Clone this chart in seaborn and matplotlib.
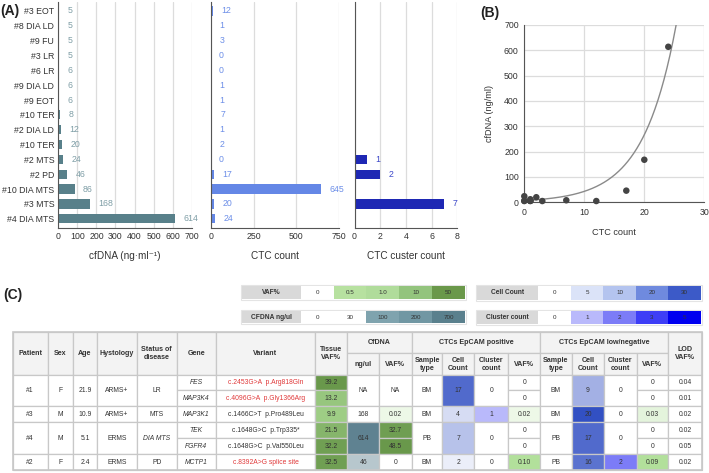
import numpy as np
import pandas as pd
import matplotlib
matplotlib.use("Agg")
import matplotlib.pyplot as plt
import seaborn as sns
from matplotlib.patches import Rectangle
from matplotlib.colors import LinearSegmentedColormap, TwoSlopeNorm, Normalize, LogNorm

# ---------------- data: panel A / B ----------------
samples = ["#3 EOT", "#8 DIA LD", "#9 FU", "#3 LR", "#6 LR", "#9 DIA LD", "#9 EOT",
           "#10 TER", "#2 DIA LD", "#10 TER", "#2 MTS", "#2 PD", "#10 DIA MTS",
           "#3 MTS", "#4 DIA MTS"]
cfdna_ngml = [5, 5, 5, 5, 6, 6, 6, 8, 12, 20, 24, 46, 86, 168, 614]
ctc_count = [12, 1, 3, 0, 0, 1, 1, 7, 1, 2, 0, 17, 645, 20, 24]
ctc_cluster = [0, 0, 0, 0, 0, 0, 0, 0, 0, 0, 1, 2, 0, 7, 0]

# exponential trend line: y = a * exp(b * x)
trend_a = 7.0
trend_b = 0.182

# ---------------- data: panel C table ----------------
patients = ["#1", "#3", "#4", "#2"]
sex = ["F", "M", "M", "F"]
age = ["21.9", "10.9", "5.1", "2.4"]
histology = ["ARMS+", "ARMS+", "ERMS", "ERMS"]
status = ["LR", "MTS", "DIA MTS", "PD"]
genes = [["FES", "MAP3K4"], ["MAP3K1"], ["TEK", "FGFR4"], ["MCTP1"]]
variants = [["c.2453G>A  p.Arg818Gln", "c.4096G>A  p.Gly1366Arg"],
            ["c.1466C>T  p.Pro489Leu"],
            ["c.1648G>C  p.Trp335*", "c.1648G>C  p.Val550Leu"],
            ["c.8392A>G splice site"]]
tissue_vaf = [["39.2", "13.2"], ["9.9"], ["21.5", "32.2"], ["32.5"]]
cfdna_ngul = ["NA", "168", "614", "46"]
cfdna_vaf = [["NA"], ["0.02"], ["32.7", "48.5"], ["0"]]
pos_sample = ["BM", "BM", "PB", "BM"]
pos_cell = [17, 4, 7, 2]
pos_cluster = [0, 1, 0, 0]
pos_vaf = [["0", "0"], ["0.02"], ["0", "0"], ["0.10"]]
neg_sample = ["BM", "BM", "PB", "PB"]
neg_cell = [9, 20, 17, 16]
neg_cluster = [0, 0, 0, 2]
neg_vaf = [["0", "0"], ["0.03"], ["0", "0"], ["0.09"]]
lod_vaf = [["0.04", "0.01"], ["0.02"], ["0.02", "0.05"], ["0.02"]]

# legend scales
vaf_legend_vals = ["0", "0.5", "1.0", "10", "50"]
cfdna_legend_vals = ["0", "30", "100", "200", "700"]
cell_legend_vals = ["0", "5", "10", "20", "30"]
cluster_legend_vals = ["0", "1", "2", "3", "5"]

# ---------------- styles ----------------
variant_red = [[True, True], [False], [False, False], [True]]
status_italic = [False, False, True, False]
cfdna_shaded = [False, False, True, True]
vaf_legend_cols = ["#ffffff", "#b7e1a0", "#b0dc9b", "#93c47d", "#6a984a"]
cfdna_legend_cols = ["#ffffff", "#ffffff", "#7fa3ae", "#7197a3", "#5a808d"]
cell_legend_cols = ["#ffffff", "#dbe3f8", "#b4c4ef", "#6f8ade", "#3c5ac8"]
cluster_legend_cols = ["#ffffff", "#b9b9fb", "#7c7cf7", "#3e3ef6", "#0000f0"]

sns.set_theme(style="white")
plt.rcParams['font.family'] = ['Liberation Sans', 'DejaVu Sans']
plt.rcParams['axes.unicode_minus'] = False

W, H = 709, 473
fig = plt.figure(figsize=(W / 100, H / 100), dpi=100)


def px_axes(x0, y0, x1, y1):
    return fig.add_axes([x0 / W, 1 - y1 / H, (x1 - x0) / W, (y1 - y0) / H])


TXT = "#333333"
GRIDC = "#dcdcdc"
SPINE = "#555555"

# ---------------- panel A ----------------
df = pd.DataFrame({"row": range(len(samples)), "sample": samples,
                   "cfdna": cfdna_ngml, "ctc": ctc_count, "cluster": ctc_cluster})

panels = [
    dict(x0=58.3, x1=191.7, col="cfdna", bar="#58808a", lab="#7f9ea6",
         lim=(0, 700), ticks=list(range(0, 701, 100)), xlabel="cfDNA (ng·ml⁻¹)", zero=True),
    dict(x0=210.7, x1=339.3, col="ctc", bar="#6487e6", lab="#6d8fe8",
         lim=(0, 750), ticks=[0, 250, 500, 750], xlabel="CTC count", zero=True),
    dict(x0=354.5, x1=457.3, col="cluster", bar="#1e28b4", lab="#3c47c9",
         lim=(0, 8), ticks=[0, 2, 4, 6, 8], xlabel="CTC custer count", zero=False),
]
for i, p in enumerate(panels):
    ax = px_axes(p["x0"], 2, p["x1"], 227.7)
    sns.barplot(data=df, x=p["col"], y="row", orient="y", color=p["bar"],
                saturation=1, width=0.62, errorbar=None, ax=ax, linewidth=0)
    ax.set_xlim(*p["lim"])
    ax.set_ylim(len(samples) - 0.4, -0.6)
    ax.set_xticks(p["ticks"])
    ax.set_xticklabels([str(t) for t in p["ticks"]])
    ax.set_axisbelow(True)
    ax.xaxis.grid(True, color=GRIDC, linewidth=0.9, linestyle="-")
    ax.yaxis.grid(False)
    for s in ["top", "right"]:
        ax.spines[s].set_visible(False)
    for s in ["left", "bottom"]:
        ax.spines[s].set_visible(True)
        ax.spines[s].set_color(SPINE)
        ax.spines[s].set_linewidth(0.8)
        ax.spines[s].set_zorder(4)
    ax.tick_params(axis="both", length=0, labelsize=6.3, colors=TXT, pad=3)
    ax.set_xlabel(p["xlabel"], fontsize=7.2, color=TXT, labelpad=7)
    ax.set_ylabel("")
    ax.set_yticks(range(len(samples)))
    ax.set_yticklabels(samples if i == 0 else [])
    vals = df[p["col"]].tolist()
    labels = [str(v) if (v != 0 or p["zero"]) else "" for v in vals]
    ax.bar_label(ax.containers[0], labels=labels, padding=6, color=p["lab"], fontsize=6.3)

fig.text(0 / W, 1 - 11 / H, "(A)", fontsize=10, fontweight="bold", va="center", ha="left", color="#222")

# ---------------- panel B ----------------
axb = px_axes(524.3, 25, 704.3, 202.3)
sub = df[df["ctc"] <= 30]
sns.scatterplot(x=sub["ctc"], y=sub["cfdna"], color="#444444", s=22, edgecolor="none",
                ax=axb, zorder=4, clip_on=False)
xs = np.linspace(0, 30, 300)
sns.lineplot(x=xs, y=trend_a * np.exp(trend_b * xs), color="#8a8a8a", lw=1.0, ax=axb, zorder=3)
axb.set_xlim(0, 30)
axb.set_ylim(0, 700)
axb.set_xticks([0, 10, 20, 30])
axb.set_yticks(range(0, 701, 100))
axb.set_axisbelow(True)
axb.grid(True, color=GRIDC, linewidth=0.9)
for s in ["top", "right"]:
    axb.spines[s].set_visible(False)
for s in ["left", "bottom"]:
    axb.spines[s].set_color(SPINE)
    axb.spines[s].set_linewidth(0.8)
axb.tick_params(axis="both", length=0, labelsize=6.3, colors=TXT, pad=4)
axb.set_xlabel("CTC count", fontsize=6.6, color=TXT, labelpad=8)
axb.set_ylabel("cfDNA (ng/ml)", fontsize=6.6, color=TXT, labelpad=7)
fig.text(480 / W, 1 - 13 / H, "(B)", fontsize=10, fontweight="bold", va="center", ha="left", color="#222")

# ---------------- panel C ----------------
axt = fig.add_axes([0, 0, 1, 1])
axt.set_xlim(0, W)
axt.set_ylim(H, 0)
axt.axis("off")
axt.text(3, 295, "(C)", fontsize=10, fontweight="bold", va="center", ha="left", color="#222")

BORDER = "#c8c8c8"


def box(x0, x1, y0, y1, text, fill="white", color=TXT, weight="normal",
        style="normal", size=4.9, ec=BORDER, lw=0.9):
    axt.add_patch(Rectangle((x0, y0), x1 - x0, y1 - y0, facecolor=fill,
                            edgecolor=ec, lw=lw))
    if text:
        axt.text((x0 + x1) / 2, (y0 + y1) / 2, text, ha="center", va="center",
                 fontsize=size, color=color, fontweight=weight, fontstyle=style,
                 linespacing=1.15)


# legends
def legend_strip(xl0, xl1, cw, y0, y1, label, vals, cols):
    axt.add_patch(Rectangle((xl0 - 1, y0 - 1), xl1 - xl0 + cw * len(vals) + 2, y1 - y0 + 2,
                            facecolor="none", edgecolor="#e4e4e4", lw=0.8))
    box(xl0, xl1, y0, y1, label, fill="#d9d9d9", weight="bold", size=4.8, ec="#d9d9d9", lw=0)
    for k, (v, c) in enumerate(zip(vals, cols)):
        box(xl1 + k * cw, xl1 + (k + 1) * cw, y0, y1, v, fill=c, size=4.5, ec=c, lw=0)


legend_strip(241.7, 300.7, 32.86, 286, 298.5, "VAF%", vaf_legend_vals, vaf_legend_cols)
legend_strip(241.7, 300.7, 32.86, 311, 323.3, "CFDNA ng/ul", cfdna_legend_vals, cfdna_legend_cols)
legend_strip(476.7, 538.3, 32.48, 286, 299.5, "Cell Count", cell_legend_vals, cell_legend_cols)
legend_strip(476.7, 538.3, 32.48, 310.5, 324, "Cluster count", cluster_legend_vals, cluster_legend_cols)

# color scales for table cells
vaf_cmap = LinearSegmentedColormap.from_list("vaf", ["#ffffff", "#b2e09b", "#69984b"])
vaf_norm = TwoSlopeNorm(vmin=0, vcenter=0.085, vmax=36)
cf_cmap = LinearSegmentedColormap.from_list("cf", ["#ffffff", "#5f8291"])
cf_norm = LogNorm(vmin=5.5, vmax=614, clip=True)
cell_cmap = LinearSegmentedColormap.from_list("cell", ["#ffffff", "#3250c3"])
cell_norm = Normalize(0, 20, clip=True)
clu_cmap = LinearSegmentedColormap.from_list(
    "clu", [(float(v) / 5, c) for v, c in zip(cluster_legend_vals, cluster_legend_cols)])
clu_norm = Normalize(0, 5, clip=True)


def vaf_color(s):
    try:
        v = float(s)
    except ValueError:
        return "#ffffff"
    return vaf_cmap(min(vaf_norm(v), 1.0))


col_edges = [12.7, 47.7, 72.7, 97.3, 136.7, 176.7, 216, 315, 347.3, 379, 411.7,
             442.3, 474, 508.3, 540, 571.7, 604.3, 636.7, 668.3, 701.7]
row_edges = [332.3, 353.3, 375.3, 390.3, 406.3, 422.3, 438.3, 454, 470]
HEAD = "#f3f3f3"


def hcell(c0, c1, r0, r1, text):
    box(col_edges[c0], col_edges[c1], row_edges[r0], row_edges[r1], text,
        fill=HEAD, weight="bold", size=5.1)


full_headers = ["Patient", "Sex", "Age", "Hystology", "Status of\ndisease", "Gene",
                "Variant", "Tissue\nVAF%"]
for c, t in enumerate(full_headers):
    hcell(c, c + 1, 0, 2, t)
hcell(8, 10, 0, 1, "CfDNA")
hcell(8, 9, 1, 2, "ng/ul")
hcell(9, 10, 1, 2, "VAF%")
hcell(10, 14, 0, 1, "CTCs EpCAM positive")
hcell(14, 18, 0, 1, "CTCs EpCAM low/negative")
for base in (10, 14):
    for k, t in enumerate(["Sample\ntype", "Cell\nCount", "Cluster\ncount", "VAF%"]):
        hcell(base + k, base + k + 1, 1, 2, t)
hcell(18, 19, 0, 2, "LOD\nVAF%")

start = 0
for p in range(len(patients)):
    n = len(genes[p])
    y0, y1 = row_edges[2 + start], row_edges[2 + start + n]

    def merged(col, text, fill="white", **kw):
        box(col_edges[col], col_edges[col + 1], y0, y1, text, fill=fill, **kw)

    def per_gene(col, texts, fills=None, colors=None, style="normal"):
        for k, t in enumerate(texts):
            ya, yb = row_edges[2 + start + k], row_edges[3 + start + k]
            f = fills[k] if fills is not None else "white"
            c = colors[k] if colors is not None else TXT
            box(col_edges[col], col_edges[col + 1], ya, yb, t, fill=f, color=c, style=style)

    merged(0, patients[p])
    merged(1, sex[p])
    merged(2, age[p])
    merged(3, histology[p])
    merged(4, status[p], style="italic" if status_italic[p] else "normal")
    per_gene(5, genes[p], style="italic")
    per_gene(6, variants[p], colors=["#e0393a" if r else TXT for r in variant_red[p]])
    per_gene(7, tissue_vaf[p], fills=[vaf_color(v) for v in tissue_vaf[p]])
    cf_fill = cf_cmap(cf_norm(float(cfdna_ngul[p]))) if cfdna_shaded[p] else "white"
    merged(8, cfdna_ngul[p], fill=cf_fill)
    if len(cfdna_vaf[p]) == 1:
        merged(9, cfdna_vaf[p][0], fill=vaf_color(cfdna_vaf[p][0]))
    else:
        per_gene(9, cfdna_vaf[p], fills=[vaf_color(v) for v in cfdna_vaf[p]])
    merged(10, pos_sample[p])
    merged(11, str(pos_cell[p]), fill=cell_cmap(cell_norm(pos_cell[p])))
    merged(12, str(pos_cluster[p]), fill=clu_cmap(clu_norm(pos_cluster[p])))
    per_gene(13, pos_vaf[p], fills=[vaf_color(v) for v in pos_vaf[p]])
    merged(14, neg_sample[p])
    merged(15, str(neg_cell[p]), fill=cell_cmap(cell_norm(neg_cell[p])))
    merged(16, str(neg_cluster[p]), fill=clu_cmap(clu_norm(neg_cluster[p])))
    per_gene(17, neg_vaf[p], fills=[vaf_color(v) for v in neg_vaf[p]])
    per_gene(18, lod_vaf[p])
    start += n

# outer frame
axt.add_patch(Rectangle((col_edges[0], row_edges[0]), col_edges[-1] - col_edges[0],
                        row_edges[-1] - row_edges[0], facecolor="none",
                        edgecolor=BORDER, lw=1.2))

fig.savefig("out.png", dpi=100)
